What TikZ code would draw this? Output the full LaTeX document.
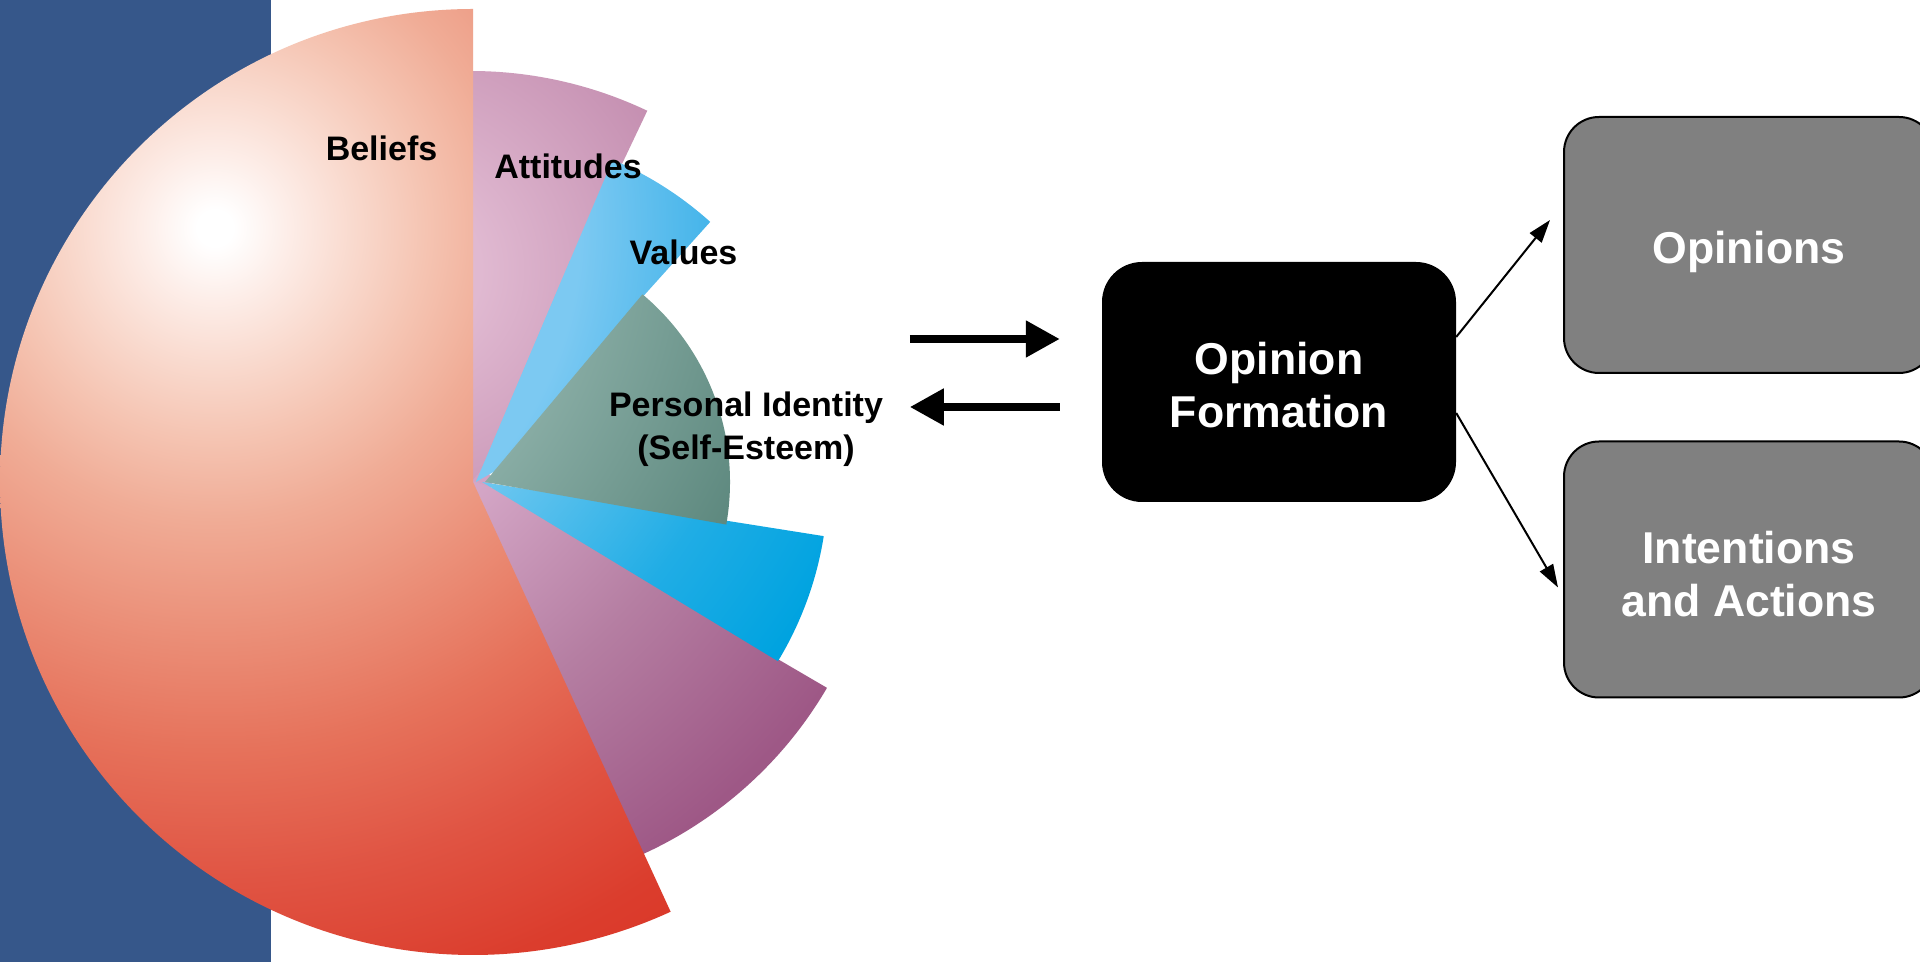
\documentclass[tikz,border=0pt]{standalone}
\usepackage{fontspec}
\setmainfont{Liberation Sans}
\usetikzlibrary{arrows.meta,calc}

% palette
\definecolor{bandblue}{HTML}{36578A}
\definecolor{boxgrey}{HTML}{808080}
\definecolor{hubpink}{HTML}{D2A3C4}
\definecolor{belA}{HTML}{FDEEE9}
\definecolor{belB}{HTML}{F9D9CD}
\definecolor{belC}{HTML}{F5C4B2}
\definecolor{belD}{HTML}{F0AC96}
\definecolor{belE}{HTML}{EB9079}
\definecolor{belF}{HTML}{E6725B}
\definecolor{belG}{HTML}{E05443}
\definecolor{belH}{HTML}{DB3D2D}
\definecolor{belI}{HTML}{D93325}
\definecolor{attA}{HTML}{E4C0D6}
\definecolor{attB}{HTML}{E0B9D1}
\definecolor{attC}{HTML}{C48EB0}
\definecolor{valA}{HTML}{7CC9F2}
\definecolor{valB}{HTML}{46B5EA}
\definecolor{tealA}{HTML}{88ACA4}
\definecolor{tealB}{HTML}{5D887E}
\definecolor{cyaA}{HTML}{6EC7F0}
\definecolor{cyaB}{HTML}{20ADE5}
\definecolor{cyaC}{HTML}{00A3E0}
\definecolor{purA}{HTML}{D4A6C6}
\definecolor{purB}{HTML}{B57EA2}
\definecolor{purC}{HTML}{9E5886}

% radial fills of the pie wedges
\pgfdeclareradialshading{beliefsfill}{\pgfpointorigin}{color(0bp)=(white); color(18bp)=(white); color(70bp)=(belA); color(140bp)=(belB); color(210bp)=(belC); color(290bp)=(belD); color(400bp)=(belE); color(520bp)=(belF); color(650bp)=(belG); color(780bp)=(belH); color(900bp)=(belI)}
\pgfdeclareradialshading{attitudesfill}{\pgfpointorigin}{color(0bp)=(attA); color(80bp)=(attB); color(300bp)=(attC); color(900bp)=(attC)}
\pgfdeclareradialshading{valuesfill}{\pgfpointorigin}{color(0bp)=(valA); color(364bp)=(valA); color(490bp)=(valB); color(900bp)=(valB)}
\pgfdeclareradialshading{identityfill}{\pgfpointorigin}{color(0bp)=(tealA); color(368bp)=(tealA); color(590bp)=(tealB); color(900bp)=(tealB)}
\pgfdeclareradialshading{cyanfill}{\pgfpointorigin}{color(0bp)=(cyaA); color(368bp)=(cyaA); color(560bp)=(cyaB); color(700bp)=(cyaC); color(900bp)=(cyaC)}
\pgfdeclareradialshading{purplefill}{\pgfpointorigin}{color(0bp)=(purA); color(368bp)=(purA); color(560bp)=(purB); color(760bp)=(purC); color(900bp)=(purC)}

% wedge: name, vertex, start angle, end angle, radius, shading, shading centre
\newcommand\shadedwedge[7]{%
  \begin{scope}
    \clip (#2) -- ++(#3:#5) arc[start angle=#3, end angle=#4, radius=#5] -- cycle;
    \node[inner sep=0pt] (#1) at (#7) {\pgfuseshading{#6}};
  \end{scope}}

\tikzset{
  wedgelabel/.style={font=\fontsize{34}{43}\selectfont\bfseries, align=center, inner sep=0pt},
  boxtext/.style={font=\fontsize{44.6}{53}\selectfont\bfseries, text=white, align=center},
  darkbox/.style={fill=black, rounded corners=40pt, minimum width=354pt, minimum height=240pt, inner sep=0pt},
  greybox/.style={fill=boxgrey, draw=black, line width=2pt, rounded corners=35pt, minimum width=370pt, minimum height=256pt, inner sep=0pt},
  fatarrow/.style={line width=8pt, -{Triangle[length=34pt,width=35pt]}},
  thinarrow/.style={line width=2pt, -{Triangle[length=23pt,width=15pt]}},
}

\begin{document}
\begin{tikzpicture}[x=1pt,y=1pt]
\useasboundingbox (0,0) rectangle (1920,962);
\fill[white] (0,0) rectangle (1920,962);

% left band
\fill[bandblue] (0,0) rectangle (271,962);

% pie wedges, back to front; inner parts of the back wedges run on
% under their neighbours so that no white seams open at the hub
\coordinate (glow) at (215,734);
\coordinate (attc) at (400,692);
\fill[hubpink] (478,480) circle[radius=14];
\shadedwedge{attitudes}{471,480}{64.6}{90}{411}{attitudesfill}{attc}
\shadedwedge{attitudeshub}{471,480}{50}{90}{240}{attitudesfill}{attc}
\shadedwedge{values}{476,480}{48}{67}{350}{valuesfill}{glow}
\shadedwedge{valueshub}{476,480}{30}{67}{240}{valuesfill}{glow}
\shadedwedge{lowerpurple}{473,481}{-67}{-30.3}{410}{purplefill}{glow}
\shadedwedge{lowerpurplehub}{473,481}{-67}{-20}{330}{purplefill}{glow}
\shadedwedge{lowercyan}{482,480}{-31.2}{-9}{346}{cyanfill}{glow}
\shadedwedge{identity}{485,480}{-10}{50}{245}{identityfill}{glow}
\shadedwedge{beliefs}{473,480}{90}{294.7}{473}{beliefsfill}{glow}

% wedge labels
\node[wedgelabel] (beliefslabel) at (381.5,814) {Beliefs};
\node[wedgelabel] (attitudeslabel) at (568,796) {Attitudes};
\node[wedgelabel] (valueslabel) at (683.5,710) {Values};
\node[wedgelabel] (identitylabel) at (746,533) {Personal Identity\\(Self-Esteem)};

% boxes
\node[darkbox] (form) at (1279,580) {};
\node[boxtext] (formtext) at (1279,577) {Opinion\\Formation};
\node[greybox] (opin) at (1749,717) {};
\node[boxtext] (opintext) at (1749,710) {Opinions};
\node[greybox] (intent) at (1749,392.5) {};
\node[boxtext] (intenttext) at (1749,388) {Intentions\\and Actions};

% exchange arrows
\draw[fatarrow] ($(form.west)+(-192,43)$) -- ($(form.west)+(-42,43)$);
\draw[fatarrow] ($(form.west)+(-42,-25)$) -- ($(form.west)+(-192,-25)$);

% outcome arrows
\draw[thinarrow] ($(form.east)+(0,45)$) -- ($(opin.west)+(-13,25)$);
\draw[thinarrow] ($(form.east)+(0,-31)$) -- ($(intent.west)+(-5,-18)$);
\end{tikzpicture}
\end{document}
